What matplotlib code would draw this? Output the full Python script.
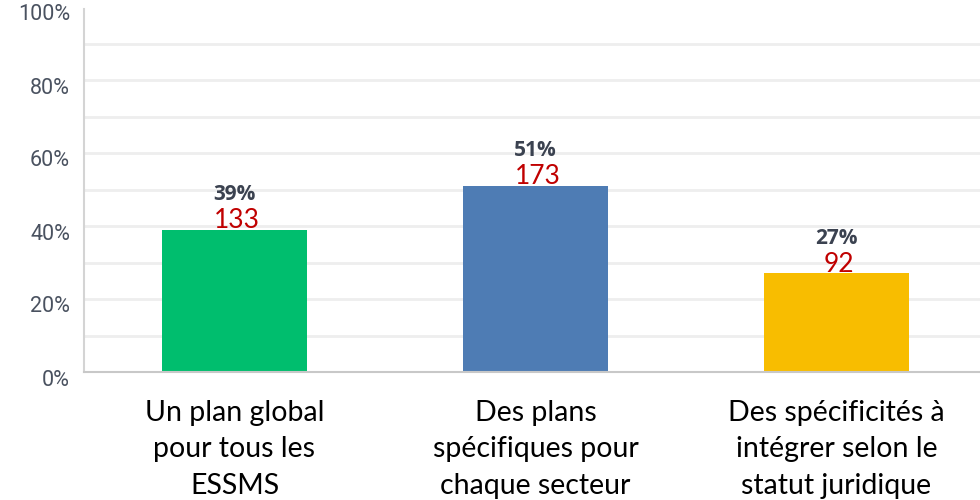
import matplotlib
matplotlib.use("Agg")
import matplotlib.pyplot as plt
import matplotlib.transforms as mtransforms

categories = ["Un plan global\npour tous les\nESSMS",
              "Des plans\nspécifiques pour\nchaque secteur",
              "Des spécificités à\nintégrer selon le\nstatut juridique"]
percents = [39, 51, 27]
counts = [133, 173, 92]
colors = ["#00be6e", "#4e7cb4", "#f8bd00"]
yticks = [0, 20, 40, 60, 80, 100]
ytick_labels = ["0%", "20%", "40%", "60%", "80%", "100%"]
grid_levels = [10, 20, 30, 40, 50, 60, 70, 80, 90]

fig = plt.figure(figsize=(9.8, 5.0), dpi=100)
ax = fig.add_axes([0.0857, 0.256, 0.9143, 0.73])

x = list(range(len(categories)))
ax.set_xlim(-0.5, 2.477)
ax.set_ylim(0, 100)

for g in grid_levels:
    ax.axhline(g, color="#eeeeee", lw=2, zorder=0)

ax.bar(x, percents, width=0.48, color=colors, zorder=2)

for xi, p, c in zip(x, percents, counts):
    ax.annotate(f"{p}%", (xi, p), xytext=(0, 25.5), textcoords="offset points",
                ha="center", va="center", fontsize=15, fontweight="bold",
                color="#3b4250", family="Open Sans")
    ax.annotate(f"{c}", (xi, p), xytext=(2, 6.5), textcoords="offset points",
                ha="center", va="center", fontsize=19, color="#c00000",
                family="Lato")

# y tick labels drawn manually, shifted a bit below their gridlines
ax.set_yticks(yticks)
ax.set_yticklabels([])
ax.tick_params(axis="y", length=0)
offset = mtransforms.ScaledTranslation(-14 / 100, -8 / 100, fig.dpi_scale_trans)
ytr = ax.get_yaxis_transform() + offset
for v, lab in zip(yticks, ytick_labels):
    ax.text(0, v, lab, transform=ytr, ha="right", va="center",
            fontsize=15.5, color="#4a5260", family="Roboto", clip_on=False)

ax.set_xticks(x)
ax.set_xticklabels(categories, fontsize=20.5, color="#000000", family="Lato",
                   linespacing=1.5)
ax.tick_params(axis="x", length=0, pad=20)

for s in ["top", "right"]:
    ax.spines[s].set_visible(False)
ax.spines["left"].set_color("#d4d4d4")
ax.spines["left"].set_linewidth(1.5)
ax.spines["left"].set_bounds(0, 99.5)
ax.spines["bottom"].set_color("#c8c8c8")
ax.spines["bottom"].set_linewidth(1.5)

fig.savefig("out.png", dpi=100)
